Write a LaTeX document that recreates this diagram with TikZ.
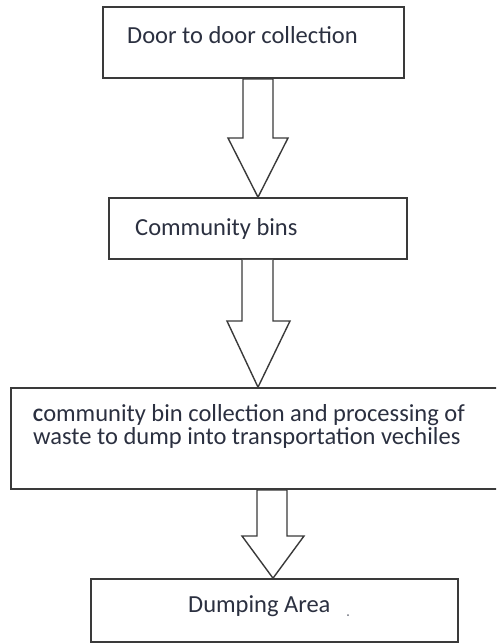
\documentclass[tikz,border=0pt]{standalone}
\usepackage{fontspec}
\setmainfont{Carlito}
\definecolor{boxline}{HTML}{3A3A3A}
\definecolor{inktext}{HTML}{2B3040}
\begin{document}
\begin{tikzpicture}[x=1pt,y=-1pt]
	\tikzstyle{stagebox}=[rectangle,draw=boxline,line width=1.6pt,inner sep=0pt]
	\tikzstyle{stagetext}=[anchor=base west,inner sep=0pt,text=inktext,font=\fontsize{24.5}{23}\selectfont,align=left]
	\tikzstyle{blockarr}=[draw=boxline,line width=1.4pt,line join=miter,fill=white]
	\useasboundingbox (0,0) rectangle (496,643);
	\clip (0,0) rectangle (496,643);
	% boxes
	\node[stagebox,minimum width=301pt,minimum height=71pt] (door) at (253.5,42.5) {};
	\node[stagebox,minimum width=298pt,minimum height=61pt] (bins) at (258,228.5) {};
	\node[stagebox,minimum width=489pt,minimum height=101pt] (collect) at (255.5,438.5) {};
	\node[stagebox,minimum width=367pt,minimum height=63pt] (dump) at (274.5,610.5) {};
	% texts
	\node[stagetext] (door-text) at (127,43) {Door to door collection};
	\node[stagetext] (bins-text) at (135,235) {Community bins};
	\node[stagetext,anchor=north west] (collect-text) at (33,404) {{\fontsize{19}{19}\selectfont\bfseries C}ommunity bin collection and processing of\\waste to dump into transportation vechiles};
	\node[stagetext] (dump-text) at (188,612) {Dumping Area};
	\fill[inktext!70] (348,615) circle (1pt);
	% arrows
	\draw[blockarr] (door.south -| 243,0) -- (243,138) -- (228,138) -- (bins.north -| 258,0) -- (288,138) -- (273,138) -- (door.south -| 273,0) -- cycle;
	\draw[blockarr] (bins.south -| 242,0) -- (242,321) -- (227,321) -- (collect.north -| 258,0) -- (290,321) -- (273,321) -- (bins.south -| 273,0);
	\draw[blockarr] (collect.south -| 257,0) -- (257,536) -- (242,536) -- (dump.north -| 273,0) -- (304,536) -- (287,536) -- (collect.south -| 287,0) -- cycle;
\end{tikzpicture}
\end{document}
